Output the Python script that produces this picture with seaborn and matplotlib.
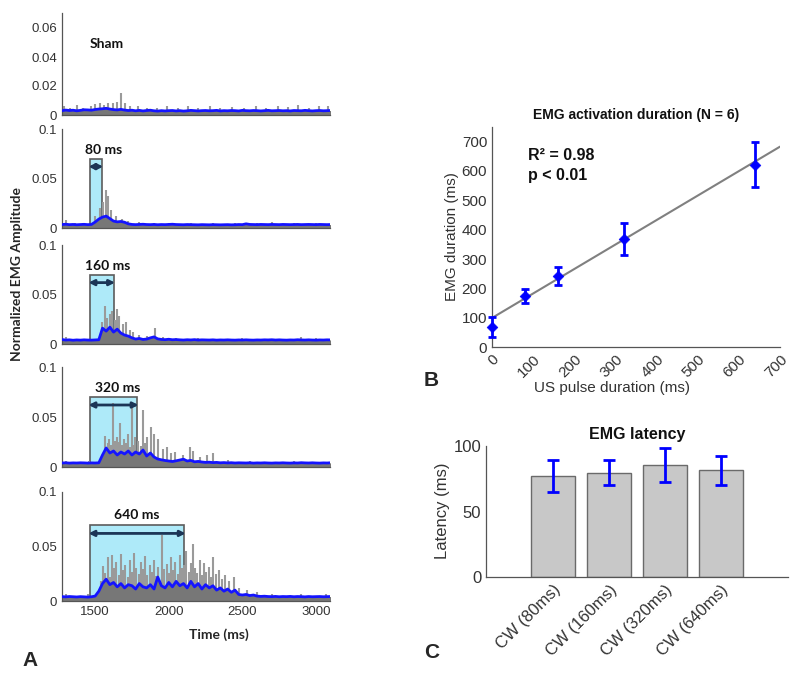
import numpy as np
import matplotlib
matplotlib.use("Agg")
import matplotlib.pyplot as plt
import seaborn as sns
from matplotlib.patches import Rectangle

# ---------------- data ----------------
# envelope sample times (ms), one point every 25 ms
env_t = np.arange(1275, 3101, 25)

sham_env = [0.0030, 0.0034, 0.0031, 0.0033, 0.0029, 0.0032, 0.0036, 0.0035, 0.0033, 0.0038,
            0.0041, 0.0043, 0.0046, 0.0041, 0.0037, 0.0035, 0.0039, 0.0034, 0.0031, 0.0033,
            0.0029, 0.0032, 0.0028, 0.0031, 0.0033, 0.0029, 0.0027, 0.0030, 0.0028, 0.0030,
            0.0031, 0.0028, 0.0030, 0.0027, 0.0029, 0.0032, 0.0030, 0.0028, 0.0030, 0.0031,
            0.0029, 0.0030, 0.0032, 0.0028, 0.0030, 0.0029, 0.0031, 0.0030, 0.0028, 0.0032,
            0.0030, 0.0029, 0.0031, 0.0030, 0.0028, 0.0030, 0.0032, 0.0029, 0.0030, 0.0031,
            0.0029, 0.0030, 0.0028, 0.0031, 0.0030, 0.0029, 0.0032, 0.0030, 0.0028, 0.0030,
            0.0031, 0.0029, 0.0030, 0.0031]
env_80 = [0.0035, 0.0038, 0.0034, 0.0036, 0.0033, 0.0035, 0.0037, 0.0034, 0.0036, 0.0060,
          0.0090, 0.0110, 0.0120, 0.0095, 0.0070, 0.0062, 0.0066, 0.0058, 0.0042, 0.0036,
          0.0034, 0.0036, 0.0038, 0.0035, 0.0034, 0.0036, 0.0033, 0.0035, 0.0034, 0.0036,
          0.0038, 0.0035, 0.0034, 0.0033, 0.0035, 0.0034, 0.0033, 0.0032, 0.0034, 0.0033,
          0.0032, 0.0034, 0.0033, 0.0032, 0.0033, 0.0034, 0.0032, 0.0033, 0.0035, 0.0034,
          0.0042, 0.0036, 0.0035, 0.0034, 0.0036, 0.0035, 0.0034, 0.0036, 0.0035, 0.0034,
          0.0036, 0.0035, 0.0034, 0.0035, 0.0036, 0.0034, 0.0035, 0.0036, 0.0035, 0.0034,
          0.0036, 0.0035, 0.0034, 0.0035]
env_160 = [0.0045, 0.0040, 0.0042, 0.0038, 0.0041, 0.0039, 0.0042, 0.0040, 0.0039, 0.0041,
           0.0043, 0.0160, 0.0130, 0.0170, 0.0120, 0.0150, 0.0110, 0.0090, 0.0080, 0.0062,
           0.0050, 0.0056, 0.0046, 0.0050, 0.0062, 0.0072, 0.0052, 0.0046, 0.0044, 0.0048,
           0.0043, 0.0045, 0.0042, 0.0040, 0.0043, 0.0041, 0.0044, 0.0040, 0.0042, 0.0041,
           0.0040, 0.0042, 0.0039, 0.0041, 0.0040, 0.0042, 0.0040, 0.0039, 0.0041, 0.0040,
           0.0042, 0.0040, 0.0039, 0.0041, 0.0040, 0.0042, 0.0041, 0.0043, 0.0040, 0.0042,
           0.0040, 0.0039, 0.0041, 0.0040, 0.0043, 0.0041, 0.0040, 0.0042, 0.0040, 0.0039,
           0.0041, 0.0040, 0.0042, 0.0041]
env_320 = [0.0040, 0.0042, 0.0039, 0.0041, 0.0040, 0.0042, 0.0041, 0.0039, 0.0041, 0.0040,
           0.0042, 0.0120, 0.0190, 0.0140, 0.0160, 0.0120, 0.0150, 0.0130, 0.0160, 0.0120,
           0.0150, 0.0130, 0.0170, 0.0110, 0.0140, 0.0100, 0.0080, 0.0072, 0.0065, 0.0060,
           0.0055, 0.0062, 0.0070, 0.0078, 0.0060, 0.0066, 0.0052, 0.0056, 0.0050, 0.0046,
           0.0048, 0.0044, 0.0046, 0.0042, 0.0044, 0.0041, 0.0043, 0.0040, 0.0042, 0.0041,
           0.0040, 0.0042, 0.0039, 0.0041, 0.0040, 0.0042, 0.0040, 0.0039, 0.0041, 0.0040,
           0.0042, 0.0040, 0.0039, 0.0041, 0.0040, 0.0043, 0.0041, 0.0040, 0.0042, 0.0040,
           0.0039, 0.0041, 0.0040, 0.0042]
env_640 = [0.0040, 0.0038, 0.0041, 0.0039, 0.0037, 0.0040, 0.0038, 0.0036, 0.0039, 0.0045,
           0.0090, 0.0160, 0.0200, 0.0150, 0.0170, 0.0130, 0.0160, 0.0120, 0.0150, 0.0140,
           0.0110, 0.0160, 0.0130, 0.0120, 0.0150, 0.0110, 0.0220, 0.0140, 0.0120, 0.0170,
           0.0130, 0.0180, 0.0140, 0.0160, 0.0120, 0.0180, 0.0130, 0.0160, 0.0110, 0.0150,
           0.0120, 0.0140, 0.0100, 0.0120, 0.0090, 0.0110, 0.0080, 0.0100, 0.0060, 0.0055,
           0.0060, 0.0050, 0.0055, 0.0045, 0.0042, 0.0044, 0.0041, 0.0040, 0.0042, 0.0039,
           0.0041, 0.0040, 0.0042, 0.0039, 0.0041, 0.0040, 0.0038, 0.0041, 0.0039, 0.0040,
           0.0041, 0.0039, 0.0040, 0.0041]

# raw EMG peaks (time in ms, amplitude)
sham_spk_t = [1290, 1330, 1380, 1420, 1470, 1500, 1530, 1560, 1590, 1620, 1650, 1676, 1700,
              1740, 1790, 1850, 1920, 1990, 2060, 2130, 2200, 2280, 2350, 2430, 2510, 2590,
              2660, 2740, 2810, 2880, 2950, 3020, 3080]
sham_spk_h = [0.006, 0.005, 0.007, 0.005, 0.006, 0.0075, 0.008, 0.007, 0.0085, 0.008, 0.009,
              0.015, 0.008, 0.006, 0.006, 0.005, 0.005, 0.006, 0.005, 0.0065, 0.005, 0.006,
              0.005, 0.0055, 0.005, 0.0065, 0.005, 0.006, 0.0055, 0.007, 0.005, 0.006, 0.0065]
spk80_t = [1300, 1360, 1420, 1500, 1530, 1555, 1575, 1590, 1610, 1640, 1680, 1720, 1800,
           1900, 2000, 2150, 2300, 2450, 2600, 2700, 2850, 3000]
spk80_h = [0.008, 0.005, 0.005, 0.012, 0.020, 0.026, 0.038, 0.032, 0.018, 0.012, 0.009,
           0.007, 0.006, 0.005, 0.005, 0.005, 0.005, 0.005, 0.005, 0.006, 0.005, 0.005]
spk160_t = [1300, 1400, 1480, 1550, 1565, 1580, 1600, 1615, 1635, 1650, 1665, 1690, 1710,
            1740, 1760, 1800, 1850, 1905, 1960, 2050, 2200, 2350, 2500, 2650, 2800, 2900,
            3000, 3060]
spk160_h = [0.007, 0.005, 0.005, 0.022, 0.038, 0.026, 0.030, 0.033, 0.024, 0.035, 0.028,
            0.020, 0.022, 0.014, 0.012, 0.009, 0.008, 0.016, 0.007, 0.006, 0.006, 0.005,
            0.006, 0.005, 0.005, 0.007, 0.006, 0.005]
spk320_t = [1300, 1380, 1460, 1567, 1585, 1597, 1610, 1620, 1635, 1647, 1660, 1670, 1685,
            1697, 1712, 1726, 1738, 1749, 1760, 1772, 1794, 1812, 1828, 1842, 1855, 1878,
            1903, 1928, 1960, 1987, 2015, 2044, 2100, 2146, 2168, 2210, 2259, 2302, 2400,
            2550, 2700, 2850, 3000]
spk320_h = [0.006, 0.005, 0.006, 0.031, 0.024, 0.028, 0.022, 0.064, 0.026, 0.030, 0.025,
            0.044, 0.022, 0.028, 0.024, 0.033, 0.020, 0.060, 0.022, 0.030, 0.026, 0.021,
            0.057, 0.024, 0.030, 0.040, 0.033, 0.028, 0.018, 0.020, 0.014, 0.015, 0.012,
            0.020, 0.016, 0.010, 0.012, 0.014, 0.007, 0.006, 0.005, 0.006, 0.005]
spk640_t = [1300, 1380, 1450, 1540, 1556, 1570, 1585, 1600, 1615, 1630, 1645, 1660, 1675,
            1690, 1705, 1720, 1735, 1750, 1765, 1780, 1795, 1810, 1825, 1840, 1855, 1870,
            1885, 1900, 1915, 1930, 1955, 1970, 1985, 2000, 2015, 2030, 2045, 2060, 2075,
            2090, 2105, 2120, 2135, 2150, 2166, 2180, 2195, 2210, 2225, 2240, 2255, 2270,
            2285, 2302, 2320, 2340, 2360, 2385, 2410, 2440, 2480, 2530, 2600, 2700, 2800,
            2900, 3000, 3070]
spk640_h = [0.006, 0.005, 0.006, 0.018, 0.032, 0.026, 0.040, 0.022, 0.042, 0.030, 0.036,
            0.024, 0.043, 0.028, 0.033, 0.022, 0.038, 0.027, 0.044, 0.030, 0.025, 0.036,
            0.029, 0.041, 0.024, 0.033, 0.027, 0.038, 0.023, 0.031, 0.061, 0.029, 0.034,
            0.026, 0.040, 0.028, 0.036, 0.025, 0.042, 0.030, 0.033, 0.046, 0.027, 0.035,
            0.052, 0.030, 0.026, 0.038, 0.024, 0.035, 0.027, 0.031, 0.022, 0.040, 0.025,
            0.028, 0.020, 0.024, 0.018, 0.022, 0.012, 0.010, 0.008, 0.006, 0.005, 0.006,
            0.005, 0.006]

pulse_ms = [0, 80, 160, 320, 640]        # US pulse durations
stim_start = 1465                         # onset of the cyan box (ms)
label_t = [1580, 1560, 1588, 1650, 1785]  # where the bold labels sit (ms)

# panel B
emg_dur = [68, 174, 243, 369, 622]
emg_dur_err = [34, 24, 30, 54, 77]
fit_x = [0, 700]
fit_y = [99, 683]

# panel C
lat_labels = ["CW (80ms)", "CW (160ms)", "CW (320ms)", "CW (640ms)"]
lat_mean = [77, 79.5, 85.5, 81.5]
lat_err = [12, 9.5, 13, 11]

# ---------------- figure ----------------
sns.set_theme(style="white")
plt.rcParams['font.family'] = ['Liberation Sans', 'DejaVu Sans']
TXT = '#333333'
BOLD_FONT = ['Lato', 'DejaVu Sans']
W, H = 800, 678
fig = plt.figure(figsize=(W / 100, H / 100), dpi=100)


def px_axes(x0, y0, x1, y1):
    return fig.add_axes([x0 / W, 1 - y1 / H, (x1 - x0) / W, (y1 - y0) / H])


def style_axes(ax):
    sns.despine(ax=ax)
    for s in ['left', 'bottom']:
        ax.spines[s].set_color('#555555')
        ax.spines[s].set_linewidth(0.9)
    ax.tick_params(direction='in', length=3, width=0.8, colors='#555555', labelcolor=TXT)


# ----- A : EMG traces -----
envs = [sham_env, env_80, env_160, env_320, env_640]
spk_t = [sham_spk_t, spk80_t, spk160_t, spk320_t, spk640_t]
spk_h = [sham_spk_h, spk80_h, spk160_h, spk320_h, spk640_h]
rows = [(13.5, 115), (129, 228), (245, 344), (367, 467), (492, 601)]

for k in range(5):
    ax = px_axes(62, rows[k][0], 330, rows[k][1])
    style_axes(ax)
    dur = pulse_ms[k]
    if dur:
        ax.add_patch(Rectangle((stim_start, 0), dur, 0.07, facecolor='#aeeaf9',
                               edgecolor='#5c5c5c', lw=1.2, zorder=0.5))
        ax.annotate('', xy=(stim_start - 10, 0.062), xytext=(stim_start + dur + 10, 0.062),
                    arrowprops=dict(arrowstyle='<|-|>', color='#1b3556', lw=2,
                                    mutation_scale=8, shrinkA=0, shrinkB=0), zorder=4)
        ax.text(label_t[k], 0.079, f'{dur} ms', ha='center', va='center',
                fontsize=10, fontweight='bold', family=BOLD_FONT, color='#111111')
    else:
        ax.text(label_t[k], 0.049, 'Sham', ha='center', va='center', fontsize=10,
                fontweight='bold', family=BOLD_FONT, color='#111111')
    ax.vlines(spk_t[k], 0, spk_h[k], color='#9a9a9a', lw=1.5, zorder=1)
    ax.fill_between(env_t, 0, envs[k], color='#777777', lw=0, zorder=1.5)
    sns.lineplot(x=env_t, y=envs[k], ax=ax, color='#1414ff', lw=2, zorder=3)
    ax.set_xlim(1275, 3095)
    ax.set_xlabel('')
    ax.set_ylabel('')
    ax.set_xticks([1500, 2000, 2500, 3000])
    if k == 0:
        ax.set_ylim(0, 0.07)
        ax.set_yticks([0, 0.02, 0.04, 0.06])
        ax.set_yticklabels(['0', '0.02', '0.04', '0.06'], fontsize=9.5)
    else:
        ax.set_ylim(0, 0.1)
        ax.set_yticks([0, 0.05, 0.1])
        ax.set_yticklabels(['0', '0.05', '0.1'], fontsize=9.5)
    if k < 4:
        ax.tick_params(axis='x', length=0, labelbottom=False)
    else:
        ax.set_xticklabels(['1500', '2000', '2500', '3000'], fontsize=9.5)

fig.text(17 / W, 1 - 274 / H, 'Normalized EMG Amplitude', rotation=90, ha='center',
         va='center', fontsize=10, fontweight='bold', family=BOLD_FONT)
fig.text(219 / W, 1 - 635 / H, 'Time (ms)', ha='center', va='center', fontsize=10,
         fontweight='bold', family=BOLD_FONT)

# ----- B : activation duration -----
axb = px_axes(492, 127, 780, 347)
style_axes(axb)
sns.lineplot(x=fit_x, y=fit_y, ax=axb, color='#808080', lw=1.5)
axb.errorbar(pulse_ms, emg_dur, yerr=emg_dur_err, fmt='none', ecolor='#0000ff',
             elinewidth=2, capsize=3, capthick=2, clip_on=False, zorder=4)
sns.scatterplot(x=pulse_ms, y=emg_dur, ax=axb, marker='D', color='#0000ff',
                edgecolor='#0000ff', s=30, zorder=5, clip_on=False)
axb.set_xlim(0, 700)
axb.set_ylim(0, 750)
axb.set_xticks(range(0, 701, 100))
axb.set_yticks(range(0, 701, 100))
axb.tick_params(labelsize=11)
plt.setp(axb.get_xticklabels(), rotation=45, ha='right', va='top', rotation_mode='anchor')
axb.set_xlabel('')
axb.set_ylabel('')
axb.set_title('EMG activation duration (N = 6)', fontsize=10, fontweight='bold',
              color='#111111', pad=6)
axb.text(88, 654, 'R² = 0.98', fontsize=11.5, fontweight='bold', va='center', color='#111111')
axb.text(88, 586, 'p < 0.01', fontsize=11.5, fontweight='bold', va='center', color='#111111')
fig.text(452 / W, 1 - 237 / H, 'EMG duration (ms)', rotation=90, ha='center', va='center',
         fontsize=11, color=TXT)
fig.text(612 / W, 1 - 388 / H, 'US pulse duration (ms)', ha='center', va='center',
         fontsize=11, color=TXT)

# ----- C : latency -----
axc = px_axes(486, 446, 788, 577)
style_axes(axc)
sns.barplot(x=lat_labels, y=lat_mean, ax=axc, color='#c8c8c8', edgecolor='#6a6a6a',
            linewidth=1, width=0.8, saturation=1)
axc.errorbar(range(len(lat_mean)), lat_mean, yerr=lat_err, fmt='none', ecolor='#0000ff',
             elinewidth=2, capsize=4, capthick=2, zorder=4)
axc.set_xlim(-1.2, 4.2)
axc.set_ylim(0, 100)
axc.set_yticks([0, 50, 100])
axc.tick_params(labelsize=12)
axc.tick_params(axis='x', length=0)
plt.setp(axc.get_xticklabels(), rotation=45, ha='right', va='top', rotation_mode='anchor')
axc.set_xlabel('')
axc.set_ylabel('')
axc.set_title('EMG latency', fontsize=11.5, fontweight='bold', color='#111111', pad=5)
fig.text(443 / W, 1 - 511 / H, 'Latency (ms)', rotation=90, ha='center', va='center',
         fontsize=12, color=TXT)

# panel letters
fig.text(30 / W, 1 - 660 / H, 'A', fontsize=15, fontweight='bold', ha='center', va='center')
fig.text(431 / W, 1 - 380 / H, 'B', fontsize=15, fontweight='bold', ha='center', va='center')
fig.text(432 / W, 1 - 652 / H, 'C', fontsize=15, fontweight='bold', ha='center', va='center')

fig.savefig('out.png', dpi=100)
